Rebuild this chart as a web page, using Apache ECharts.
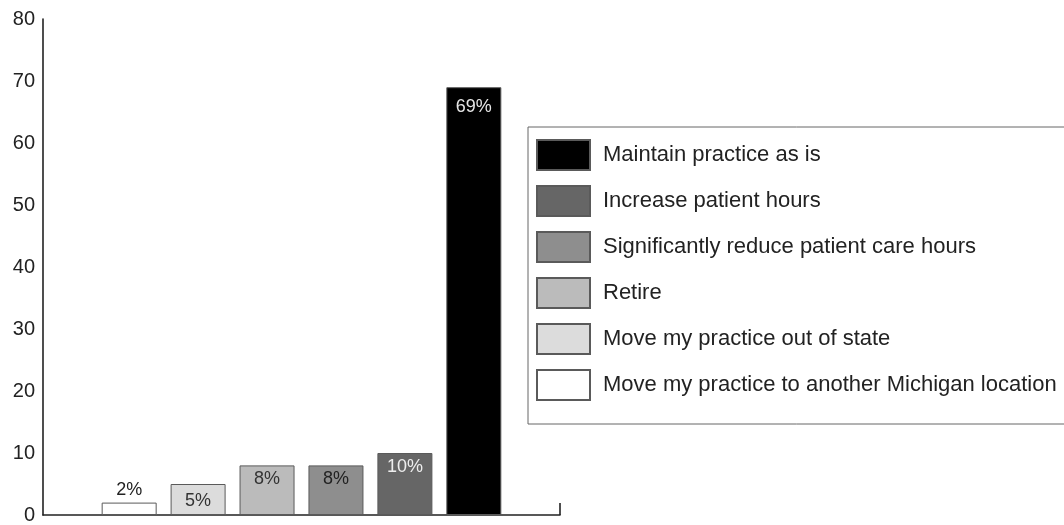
<!DOCTYPE html>
<html>
<head>
<meta charset="utf-8">
<script src="https://cdn.jsdelivr.net/npm/echarts@6/dist/echarts.min.js"></script>
<style>
  html, body { margin: 0; padding: 0; background: #fff; }
  #chart { width: 1064px; height: 525px; }
</style>
</head>
<body>
<div id="chart"></div>
<script>
// Categories in bar order (left to right)
const categories = [
  "Move my practice to another Michigan location",
  "Move my practice out of state",
  "Retire",
  "Significantly reduce patient care hours",
  "Increase patient hours",
  "Maintain practice as is"
];
const values = [2, 5, 8, 8, 10, 69];
const barColors = ["#ffffff", "#dcdcdc", "#bbbbbb", "#8e8e8e", "#666666", "#000000"];
const labelColors = ["#222222", "#333333", "#333333", "#222222", "#eeeeee", "#e6e6e6"];
const legendOrder = [
  "Maintain practice as is",
  "Increase patient hours",
  "Significantly reduce patient care hours",
  "Retire",
  "Move my practice out of state",
  "Move my practice to another Michigan location"
];
const yTicks = [0, 10, 20, 30, 40, 50, 60, 70, 80];

const FONT = "'Liberation Sans', Arial, Helvetica, sans-serif";

const series = categories.map((name, i) => ({
  name: name,
  type: 'bar',
  stack: 'all',
  barWidth: 55,
  data: [[i + 1, values[i]]],
  itemStyle: { color: barColors[i], borderColor: '#5a5a5a', borderWidth: 1 },
  label: {
    show: true,
    position: i === 0 ? 'top' : 'insideTop',
    distance: i === 0 ? 4 : (i === 5 ? 11 : (i === 1 ? 8 : 5)),
    formatter: p => p.value[1] + '%',
    color: labelColors[i],
    fontSize: 18,
    fontFamily: FONT
  },
  emphasis: { disabled: true }
}));

const chart = echarts.init(document.getElementById('chart'), null, { renderer: 'canvas' });
chart.setOption({
  animation: false,
  backgroundColor: '#ffffff',
  grid: { left: 43, right: 504, top: 19, bottom: 10, containLabel: false, outerBoundsMode: 'none' },
  xAxis: {
    type: 'value',
    min: -0.25,
    max: 7.25,
    axisLine: { show: true, onZero: false, lineStyle: { color: '#222', width: 1.6 } },
    axisTick: { show: true, inside: true, length: 12, customValues: [7.25], lineStyle: { color: '#222', width: 1.6 } },
    axisLabel: { show: false },
    splitLine: { show: false }
  },
  yAxis: {
    type: 'value',
    min: yTicks[0],
    max: yTicks[yTicks.length - 1],
    interval: 10,
    axisLine: { show: true, onZero: false, lineStyle: { color: '#222', width: 1.6 } },
    axisTick: { show: false },
    splitLine: { show: false },
    axisLabel: { color: '#222', fontSize: 20, fontFamily: FONT, margin: 8 }
  },
  legend: {
    orient: 'vertical',
    left: 528,
    top: 127,
    data: legendOrder,
    itemWidth: 53,
    itemHeight: 30,
    itemGap: 14,
    icon: 'rect',
    padding: [12, 30, 23, 8],
    borderColor: '#666',
    borderWidth: 1,
    selectedMode: false,
    textStyle: { fontSize: 22, color: '#222', fontFamily: FONT, padding: [0, 0, 0, 8] }
  },
  series: series
});
</script>
</body>
</html>
